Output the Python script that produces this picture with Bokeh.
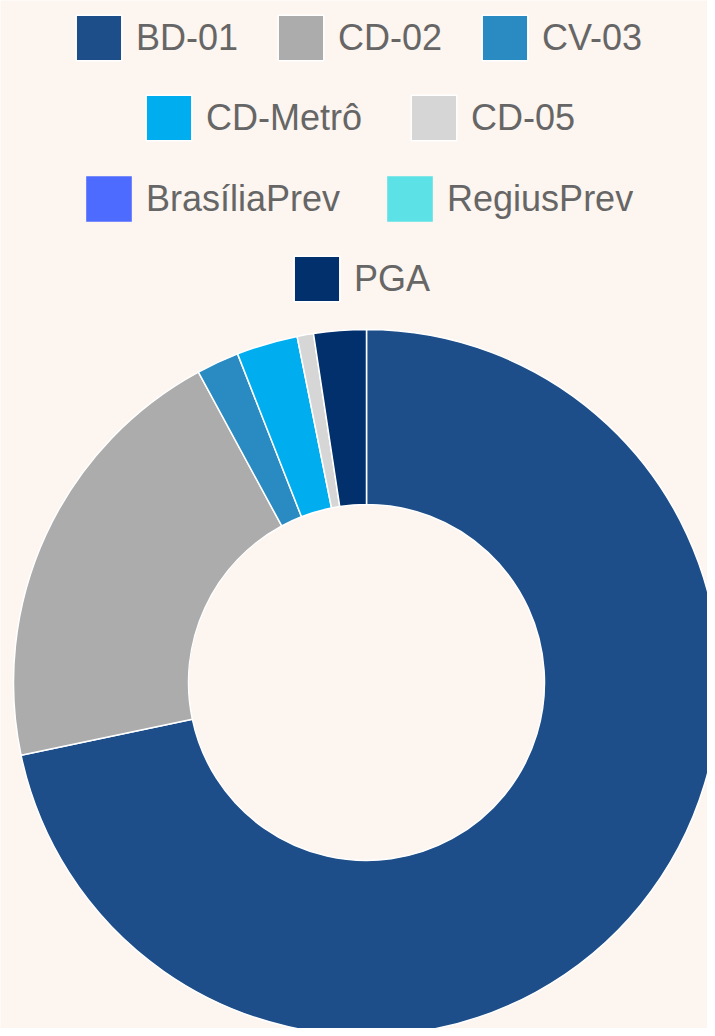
from bokeh.plotting import figure
from bokeh.models import ColumnDataSource, Legend, LegendItem, Range1d, CDSView, IndexFilter
from bokeh.embed import file_html
from bokeh.resources import INLINE
import numpy as np

# ---- data (share of each plan, %) ----
categories = ["BD-01", "CD-02", "CV-03", "CD-Metrô", "CD-05", "BrasíliaPrev", "RegiusPrev", "PGA"]
values = [71.7, 20.4, 1.95, 2.8, 0.75, 0.0, 0.0, 2.4]
colors = ["#1d4e89", "#acacac", "#2a8bc2", "#00aeef", "#d6d6d6", "#4d6bfe", "#5ce1e6", "#02306c"]
legend_rows = [[0, 1, 2], [3, 4], [5, 6], [7]]

BG = "#fdf5ef"
W, H = 707, 1028

p = figure(width=W, height=H, output_backend="svg", toolbar_location=None,
           x_range=Range1d(0, W), y_range=Range1d(0, H), min_border=0)
p.axis.visible = False
p.grid.visible = False
p.outline_line_color = None
p.background_fill_color = BG
p.border_fill_color = BG

vals = np.array(values, dtype=float)
frac = vals / vals.sum()
cum = np.concatenate([[0.0], np.cumsum(frac)])
start = np.pi / 2 - 2 * np.pi * cum[:-1]
end = np.pi / 2 - 2 * np.pi * cum[1:]

src = ColumnDataSource(dict(cat=categories, val=values, start=start, end=end, color=colors))
nonzero = [i for i, v in enumerate(values) if v > 0]
zero = [i for i, v in enumerate(values) if v <= 0]

cx, cy = 366, 346
R_IN, R_OUT = 178, 353
r = p.annular_wedge(x=cx, y=cy, inner_radius=R_IN, outer_radius=R_OUT,
                    start_angle="start", end_angle="end", direction="clock",
                    fill_color="color", line_color="white", line_width=1.5,
                    source=src, view=CDSView(filter=IndexFilter(nonzero)))
# zero-valued plans: wedges of no size, present only so the legend lists them
r0 = p.annular_wedge(x=cx, y=cy, inner_radius=0, outer_radius=0,
                     start_angle="start", end_angle="end", direction="clock",
                     fill_color="color", line_color="white", line_width=1.5, line_alpha=0,
                     source=src, view=CDSView(filter=IndexFilter(zero)))
rend = {i: (r if i in nonzero else r0) for i in range(len(categories))}

GW = 57  # legend glyph box (area glyphs are drawn inset by 10%)
row_lefts = [70, 140, 80, 288]
row_tops = [9, 89, 170, 250]
row_spacing = [34, 43, 41, 34]
for row, left, top, sp in zip(legend_rows, row_lefts, row_tops, row_spacing):
    items = [LegendItem(label=categories[i], renderers=[rend[i]], index=i) for i in row]
    leg = Legend(items=items, orientation="horizontal",
                 location=(left, H - top - GW),
                 margin=0, padding=0, spacing=sp,
                 glyph_width=GW, glyph_height=GW, label_standoff=9,
                 label_text_font="Liberation Sans", label_text_font_size="36px",
                 label_text_color="#666666",
                 background_fill_alpha=0, border_line_alpha=0)
    p.add_layout(leg)

open("out.html", "w").write(file_html(p, INLINE))
